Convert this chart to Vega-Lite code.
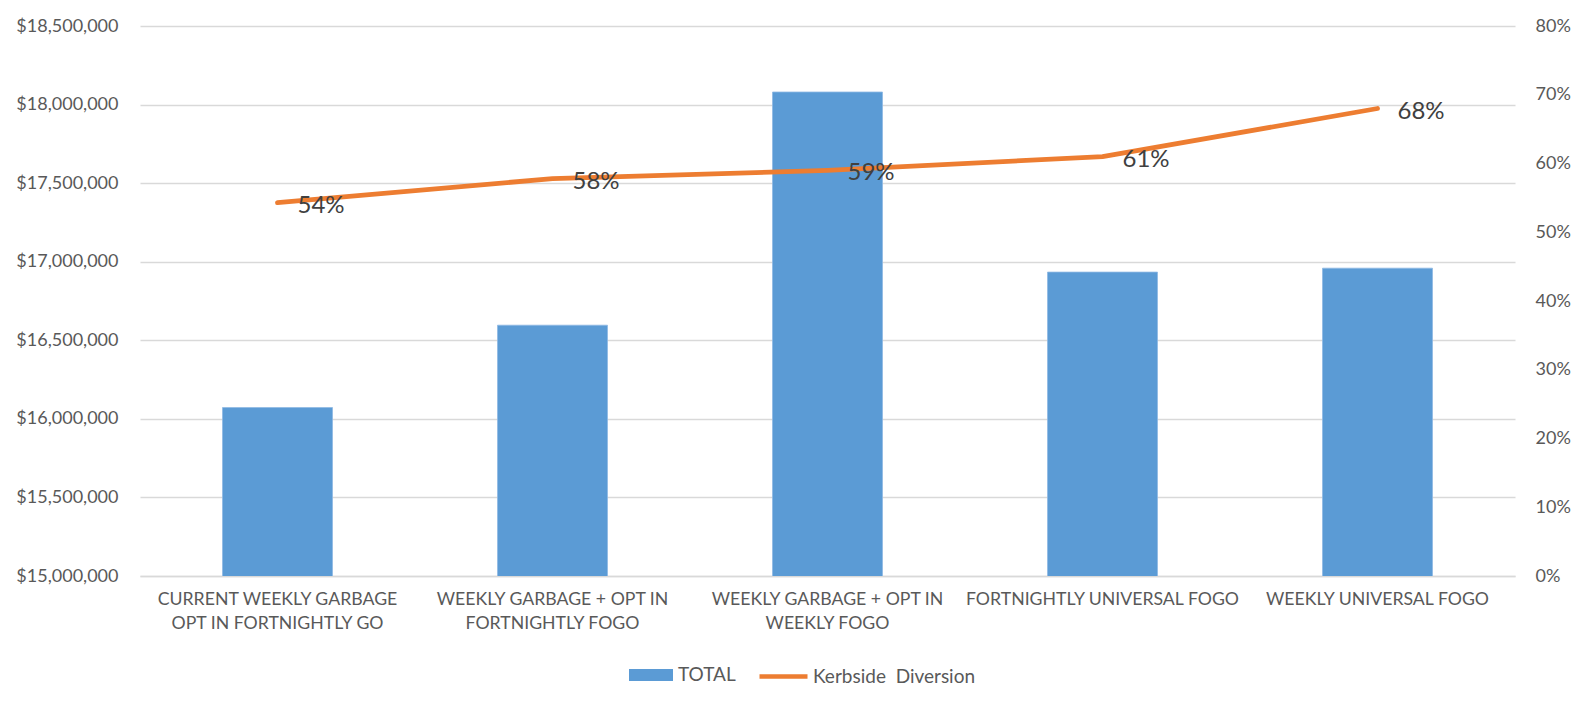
{
  "$schema": "https://vega.github.io/schema/vega-lite/v6.json",
  "width": 1375,
  "height": 550,
  "autosize": {"type": "none"},
  "padding": {"left": 140, "top": 26, "right": 70, "bottom": 129},
  "background": "white",
  "config": {
    "view": {"stroke": null},
    "font": "Lato",
    "axis": {"labelFont": "Lato", "labelColor": "#595959", "labelFontSize": 18, "labelLimit": 400, "gridColor": "#d9d9d9", "gridWidth": 1.3, "domain": false, "ticks": false, "title": null},
    "legend": {"labelFont": "Lato", "labelColor": "#595959", "labelFontSize": 19, "labelLimit": 400, "padding": 0, "title": null}
  },
  "data": {
    "values": [
      {"scenario": "CURRENT WEEKLY GARBAGE|OPT IN FORTNIGHTLY GO", "total": 16072000, "diversion": 0.543},
      {"scenario": "WEEKLY GARBAGE + OPT IN|FORTNIGHTLY FOGO", "total": 16596000, "diversion": 0.578},
      {"scenario": "WEEKLY GARBAGE + OPT IN|WEEKLY FOGO", "total": 18080000, "diversion": 0.59},
      {"scenario": "FORTNIGHTLY UNIVERSAL FOGO", "total": 16934000, "diversion": 0.61},
      {"scenario": "WEEKLY UNIVERSAL FOGO", "total": 16959000, "diversion": 0.68}
    ]
  },
  "encoding": {
    "x": {
      "field": "scenario",
      "type": "nominal",
      "sort": null,
      "scale": {"paddingInner": 0.6, "paddingOuter": 0.3},
      "axis": {"labelAngle": 0, "labelExpr": "split(datum.label, '|')", "labelPadding": 14, "labelLineHeight": 24, "domain": true, "domainColor": "#d9d9d9", "domainWidth": 1.3, "labelFontSize": 17.7}
    }
  },
  "layer": [
    {
      "mark": {"type": "bar", "color": "#5B9BD5", "stroke": "#8fb9e3", "strokeWidth": 0.8, "clip": true},
      "encoding": {
        "y": {
          "field": "total",
          "type": "quantitative",
          "scale": {"domain": [15000000, 18500000], "zero": false, "nice": false},
          "axis": {"orient": "left", "grid": true, "values": [15000000, 15500000, 16000000, 16500000, 17000000, 17500000, 18000000, 18500000], "format": "$,.0f", "labelPadding": 22}
        },
        "color": {
          "datum": "TOTAL",
          "scale": {"range": ["#5B9BD5"]},
          "legend": {"orient": "none", "legendX": 489, "legendY": 627, "symbolType": "M-1,-0.27H1V0.27H-1Z", "symbolSize": 1936, "symbolStrokeWidth": 0, "symbolOpacity": 1, "labelOffset": 5}
        }
      }
    },
    {
      "encoding": {
        "y": {
          "field": "diversion",
          "type": "quantitative",
          "scale": {"domain": [0, 0.8], "nice": false},
          "axis": {"orient": "right", "grid": false, "values": [0, 0.1, 0.2, 0.3, 0.4, 0.5, 0.6, 0.7, 0.8], "format": ".0%", "labelPadding": 20}
        }
      },
      "layer": [
        {
          "mark": {"type": "line", "strokeWidth": 4.8, "strokeCap": "round", "strokeJoin": "round"},
          "encoding": {
            "stroke": {
              "datum": "Kerbside  Diversion",
              "scale": {"range": ["#ED7D31"]},
              "legend": {"orient": "none", "legendX": 617, "legendY": 624, "symbolType": "stroke", "symbolSize": 2304, "symbolStrokeWidth": 4.5, "labelOffset": 3, "labelExpr": "'Kerbside\u00a0 Diversion'"}
            }
          }
        },
        {
          "mark": {"type": "text", "align": "left", "baseline": "middle", "dx": 20, "dy": 3, "fontSize": 24, "color": "#404040", "font": "Lato"},
          "encoding": {
            "text": {"field": "diversion", "type": "quantitative", "format": ".0%"}
          }
        }
      ]
    }
  ],
  "resolve": {"scale": {"y": "independent"}}
}
